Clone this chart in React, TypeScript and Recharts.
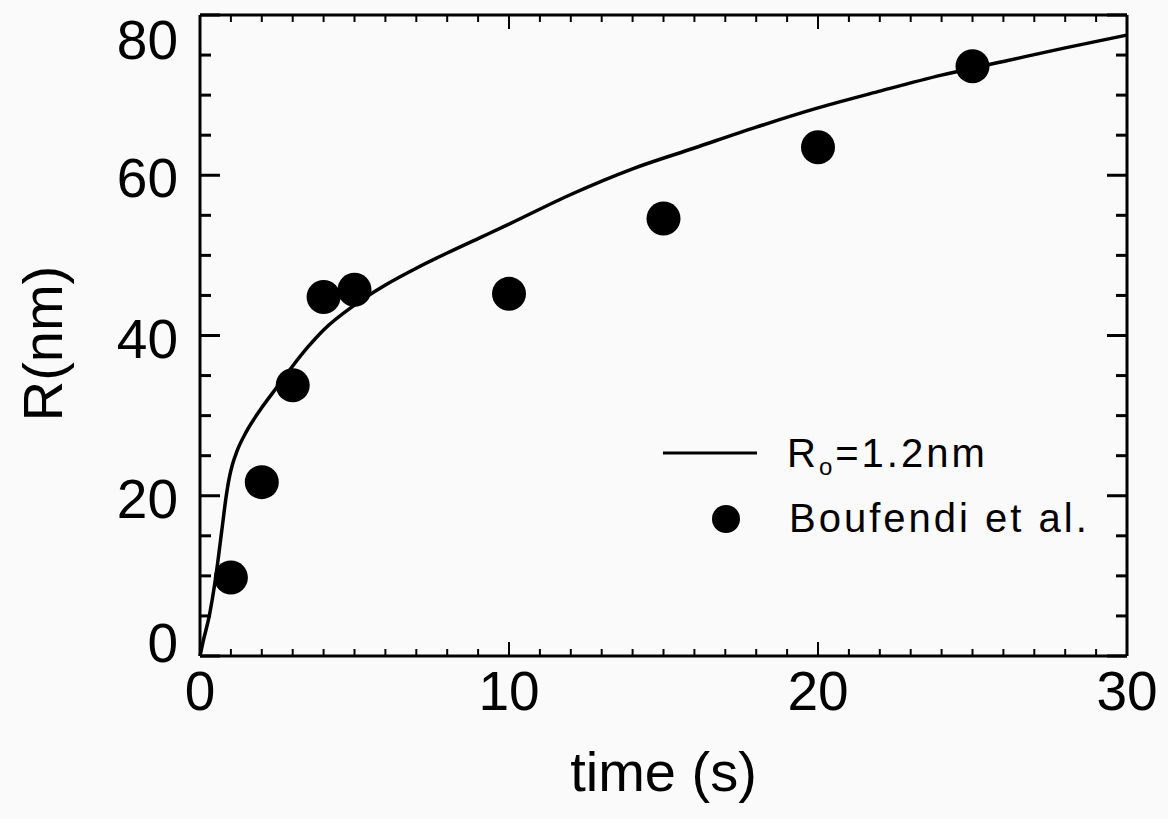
import {
  ComposedChart,
  Line,
  Scatter,
  XAxis,
  YAxis,
  Customized,
} from 'recharts'

// model curve R(t)
const curveTime = [0, 0.1, 0.3, 0.5, 0.7, 0.85, 0.95, 1.05, 1.2, 1.5, 2, 2.5, 3, 3.5, 4, 5, 6, 7, 8, 9, 10, 12, 14, 16, 18, 20, 22, 24, 26, 28, 30]
const curveRadius = [0, 1.8, 5, 9.6, 15.5, 20, 22.3, 23.9, 25.6, 28, 31, 33.6, 36.2, 38.6, 40.7, 43.8, 46.3, 48.4, 50.3, 52.1, 53.9, 57.6, 60.8, 63.4, 66, 68.4, 70.5, 72.5, 74.2, 75.9, 77.5]

// measured points (Boufendi et al.)
const dotTime = [1, 2, 3, 4, 5, 10, 15, 20, 25]
const dotRadius = [9.8, 21.7, 33.8, 44.8, 45.7, 45.2, 54.6, 63.5, 73.6]

const xTicks = [0, 1, 2, 3, 4, 5, 6, 7, 8, 9, 10, 11, 12, 13, 14, 15, 16, 17, 18, 19, 20, 21, 22, 23, 24, 25, 26, 27, 28, 29, 30]
const yTicks = [0, 5, 10, 15, 20, 25, 30, 35, 40, 45, 50, 55, 60, 65, 70, 75, 80]

const curveData = curveTime.map((t, i) => ({ t, r: curveRadius[i] }))
const dotData = dotTime.map((t, i) => ({ t, r: dotRadius[i] }))

const FONT = '"Liberation Sans", Arial, sans-serif'

function XTick(props: any) {
  const { x, y, payload, side } = props
  const v = payload.value
  const major = v % 10 === 0
  const len = major ? 14 : 7
  const dir = side === 'top' ? 1 : -1
  return (
    <g>
      <line x1={x} y1={y} x2={x} y2={y + dir * len} stroke="#000" strokeWidth={2} />
      {side === 'bottom' && major && (
        <text x={x} y={y + 54} textAnchor="middle" fontSize={55} fontFamily={FONT} fill="#000">
          {v}
        </text>
      )}
    </g>
  )
}

function YTick(props: any) {
  const { x, y, payload, side } = props
  const v = payload.value
  const major = v % 20 === 0
  const len = major ? 20 : 11
  const dir = side === 'left' ? 1 : -1
  let shift = 0
  if (v === 80) shift = 22
  if (v === 0) shift = -16
  return (
    <g>
      <line x1={x} y1={y} x2={x + dir * len} y2={y} stroke="#000" strokeWidth={3} />
      {side === 'left' && major && (
        <text x={x - 22} y={y + 22 + shift} textAnchor="end" fontSize={55} fontFamily={FONT} fill="#000">
          {v}
        </text>
      )}
    </g>
  )
}

function Dot(props: any) {
  const { cx, cy } = props
  return <circle cx={cx} cy={cy} r={17} fill="#000" />
}

function LegendBox() {
  return (
    <g fontFamily={FONT} fill="#000">
      <line x1={663} y1={453} x2={757} y2={453} stroke="#000" strokeWidth={3} />
      <text x={787} y={467} fontSize={40} letterSpacing={3}>
        R<tspan fontSize={24} dy={8}>o</tspan>
        <tspan dy={-8}>=1.2nm</tspan>
      </text>
      <circle cx={726} cy={519} r={14} fill="#000" />
      <text x={789} y={532} fontSize={40} letterSpacing={3}>
        Boufendi et al.
      </text>
    </g>
  )
}

function YTitle(props: any) {
  const { viewBox } = props
  const cx = 62
  const cy = viewBox.y + viewBox.height / 2 + 8
  return (
    <text
      x={cx}
      y={cy}
      transform={`rotate(-90, ${cx}, ${cy})`}
      textAnchor="middle"
      fontSize={56}
      fontFamily={FONT}
      fill="#000"
    >
      R(nm)
    </text>
  )
}

export default function App() {
  return (
    <div style={{ position: 'absolute', left: 0, top: 0, width: 1168, height: 819, background: '#fafafa' }}>
      <ComposedChart width={1168} height={819} margin={{ top: 14, right: 40, left: 0, bottom: 0 }}>
        <XAxis
          xAxisId="top"
          orientation="top"
          dataKey="t"
          type="number"
          domain={[0, 30]}
          ticks={xTicks}
          interval={0}
          height={1}
          tickSize={0}
          tickMargin={0}
          tickLine={false}
          axisLine={{ stroke: '#000', strokeWidth: 3 }}
          tick={(p: any) => <XTick {...p} side="top" />}
        />
        <XAxis
          dataKey="t"
          type="number"
          domain={[0, 30]}
          ticks={xTicks}
          interval={0}
          height={163}
          tickSize={0}
          tickMargin={0}
          tickLine={false}
          axisLine={{ stroke: '#000', strokeWidth: 3 }}
          tick={(p: any) => <XTick {...p} side="bottom" />}
          label={{ value: 'time (s)', position: 'insideBottom', offset: 28, fontSize: 56, fontFamily: FONT, fill: '#000' }}
        />
        <YAxis
          dataKey="r"
          type="number"
          domain={[0, 80]}
          ticks={yTicks}
          interval={0}
          width={200}
          tickSize={0}
          tickMargin={0}
          tickLine={false}
          axisLine={{ stroke: '#000', strokeWidth: 3 }}
          tick={(p: any) => <YTick {...p} side="left" />}
          label={{ content: (p: any) => <YTitle {...p} /> }}
        />
        <YAxis
          yAxisId="right"
          orientation="right"
          dataKey="r"
          type="number"
          domain={[0, 80]}
          ticks={yTicks}
          interval={0}
          width={1}
          tickSize={0}
          tickMargin={0}
          tickLine={false}
          axisLine={{ stroke: '#000', strokeWidth: 3 }}
          tick={(p: any) => <YTick {...p} side="right" />}
        />
        <Line
          data={curveData}
          dataKey="r"
          type="monotone"
          stroke="#000"
          strokeWidth={3.5}
          dot={false}
          activeDot={false}
          isAnimationActive={false}
        />
        <Scatter
          data={dotData}
          dataKey="r"
          xAxisId="top"
          yAxisId="right"
          shape={Dot}
          isAnimationActive={false}
        />
        <Customized component={LegendBox} />
      </ComposedChart>
    </div>
  )
}
